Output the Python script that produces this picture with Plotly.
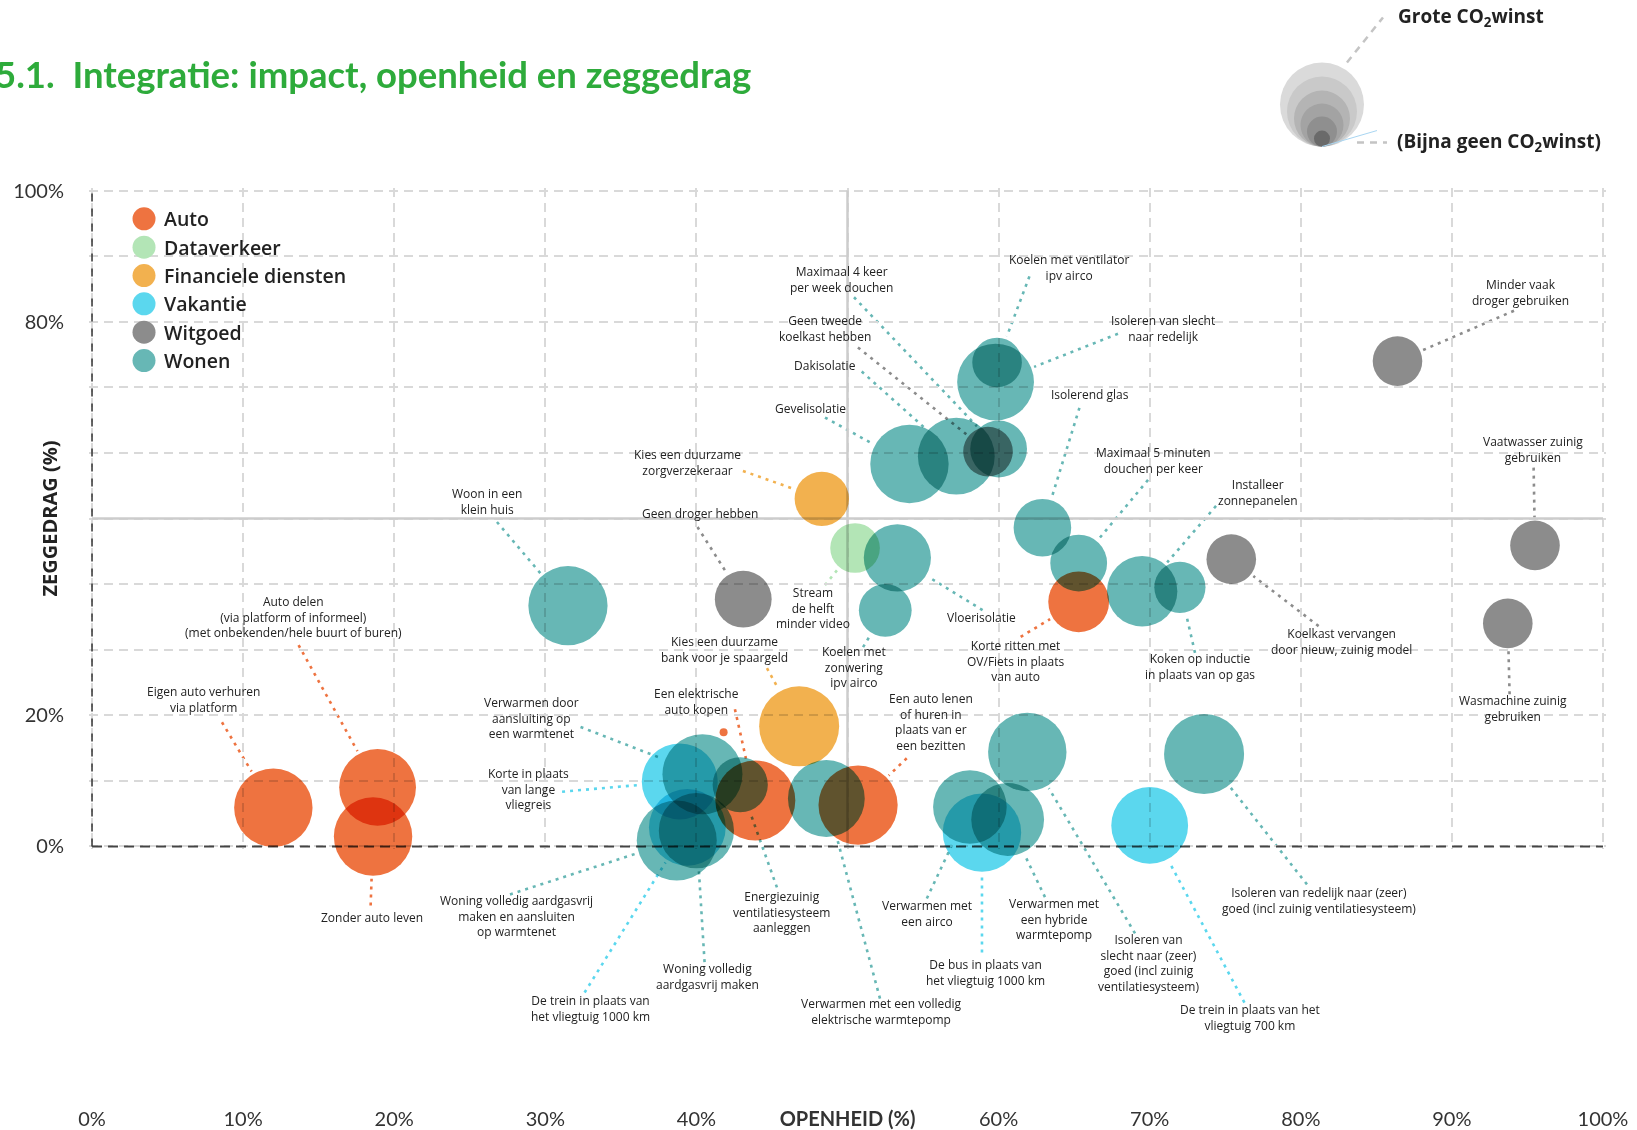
import math
import plotly.graph_objects as go

# ---------------------------------------------------------------- data
categories = ["Auto", "Dataverkeer", "Financiele diensten", "Vakantie", "Witgoed", "Wonen"]
colors = {
    "Auto": "#EE7340",
    "Dataverkeer": "#B3E5B6",
    "Financiele diensten": "#F2B14F",
    "Vakantie": "#5BD7EE",
    "Witgoed": "#8C8C8C",
    "Wonen": "#67B7B5",
}

labels = [
    "Eigen auto verhuren<br>via platform",
    "Auto delen<br>(via platform of informeel)<br>(met onbekenden/hele buurt of buren)",
    "Zonder auto leven",
    "Een elektrische<br>auto kopen",
    "",
    "Korte ritten met<br>OV/Fiets in plaats<br>van auto",
    "Een auto lenen<br>of huren in<br>plaats van er<br>een bezitten",
    "Stream<br>de helft<br>minder video",
    "Kies een duurzame<br>zorgverzekeraar",
    "Kies een duurzame<br>bank voor je spaargeld",
    "Korte in plaats<br>van lange<br>vliegreis",
    "De trein in plaats van<br>het vliegtuig 1000 km",
    "De bus in plaats van<br>het vliegtuig 1000 km",
    "De trein in plaats van het<br>vliegtuig 700 km",
    "Geen droger hebben",
    "Geen tweede<br>koelkast hebben",
    "Minder vaak<br>droger gebruiken",
    "Koelkast vervangen<br>door nieuw, zuinig model",
    "Vaatwasser zuinig<br>gebruiken",
    "Wasmachine zuinig<br>gebruiken",
    "Woon in een<br>klein huis",
    "Gevelisolatie",
    "Dakisolatie",
    "Maximaal 4 keer<br>per week douchen",
    "Koelen met ventilator<br>ipv airco",
    "Isoleren van slecht<br>naar redelijk",
    "Isolerend glas",
    "Maximaal 5 minuten<br>douchen per keer",
    "Installeer<br>zonnepanelen",
    "Koken op inductie<br>in plaats van op gas",
    "Vloerisolatie",
    "Koelen met<br>zonwering<br>ipv airco",
    "Verwarmen door<br>aansluiting op<br>een warmtenet",
    "Woning volledig aardgasvrij<br>maken en aansluiten<br>op warmtenet",
    "Woning volledig<br>aardgasvrij maken",
    "Energiezuinig<br>ventilatiesysteem<br>aanleggen",
    "Verwarmen met een volledig<br>elektrische warmtepomp",
    "Verwarmen met<br>een airco",
    "Verwarmen met<br>een hybride<br>warmtepomp",
    "Isoleren van<br>slecht naar (zeer)<br>goed (incl zuinig<br>ventilatiesysteem)",
    "Isoleren van redelijk naar (zeer)<br>goed (incl zuinig ventilatiesysteem)",
]
group = (["Auto"] * 7 + ["Dataverkeer"] + ["Financiele diensten"] * 2
         + ["Vakantie"] * 4 + ["Witgoed"] * 6 + ["Wonen"] * 21)

openheid = [12.0, 18.9, 18.6, 43.9, 41.8, 65.3, 50.7,
            50.5,
            48.3, 46.8,
            38.9, 39.4, 58.9, 70.0,
            43.1, 59.3, 86.4, 75.4, 95.5, 93.7,
            31.5, 54.1, 57.2, 60.0, 59.9, 59.8, 62.9, 65.3, 69.5, 72.0,
            53.3, 52.5, 40.4, 38.7, 40.0, 42.9, 48.6, 58.1, 60.6, 61.9, 73.6]
zeggedrag = [5.9, 9.0, 1.5, 7.0, 17.4, 37.3, 6.3,
             45.5,
             53.0, 18.3,
             9.9, 2.9, 2.1, 3.2,
             37.7, 60.2, 74.0, 43.8, 45.9, 34.0,
             36.7, 58.3, 59.5, 60.6, 73.8, 70.8, 48.6, 43.2, 38.9, 39.5,
             44.0, 36.0, 11.0, 0.9, 2.4, 9.4, 7.3, 6.0, 4.1, 14.4, 14.1]
# CO2-winst (relative bubble size)
co2 = [9.8, 9.6, 9.8, 10.0, 1.0, 7.6, 9.9,
       6.2,
       6.8, 10.0,
       9.5, 9.6, 9.8, 9.6,
       7.1, 6.2, 6.2, 6.2, 6.2, 6.2,
       9.9, 9.8, 9.6, 7.1, 6.2, 9.6, 7.2, 7.1, 8.8, 6.4,
       8.4, 6.6, 10.0, 10.0, 9.4, 6.9, 9.6, 9.2, 9.1, 9.8, 10.0]

# label placement in axis units, and where each leader line starts
label_at = [(7.39, 22.37), (13.33, 34.96), (18.51, -10.78), (39.99, 22.05), None,
            (61.14, 28.24), (55.53, 19.02), (47.72, 36.40), (39.38, 58.55), (41.86, 30.02),
            (28.86, 8.70), (33.02, -24.66), (59.13, -19.24), (76.62, -26.11),
            (40.21, 50.75), (48.50, 78.93), (94.51, 84.43), (82.69, 31.30), (95.34, 60.46),
            (94.03, 21.10), (26.17, 52.52), (47.52, 66.72), (48.50, 73.37), (49.60, 86.41),
            (64.66, 88.24), (70.88, 78.93), (66.05, 68.92), (70.26, 58.87), (77.17, 53.89),
            (73.30, 27.48), (58.84, 34.96), (50.43, 27.33), (29.08, 19.54), (28.11, -10.63),
            (40.75, -19.85), (45.60, -9.98), (52.28, -25.13), (55.26, -10.31), (63.69, -11.10),
            (69.89, -17.80), (81.18, -8.24)]
leader_from = [(8.60, 18.93), (13.67, 30.69), (18.44, -9.01), (42.55, 20.92), None,
               (61.46, 31.95), (53.92, 13.44), (48.51, 39.85), (43.08, 57.25), (44.67, 27.18),
               (31.11, 8.34), (32.60, -22.29), (58.90, -16.18), (76.27, -23.82),
               (40.07, 48.70), (50.69, 76.09), (94.11, 81.68), (81.18, 33.59), (95.41, 57.76),
               (93.82, 23.21), (26.80, 49.47), (48.51, 65.40), (50.94, 72.41), (50.43, 83.74),
               (62.04, 86.92), (67.90, 78.17), (65.35, 66.87), (69.89, 55.88), (74.39, 51.91),
               (73.00, 29.51), (58.94, 36.03), (51.03, 30.38), (32.33, 18.21), (27.66, -7.33),
               (40.54, -17.66), (45.33, -6.26), (52.15, -23.21), (55.25, -7.94), (63.07, -7.74),
               (69.03, -13.28), (80.41, -5.80)]

x_ticks = [0, 10, 20, 30, 40, 50, 60, 70, 80, 90, 100]
x_ticktext = ["0%", "10%", "20%", "30%", "40%", "<b>OPENHEID (%)</b>",
              "60%", "70%", "80%", "90%", "100%"]
y_ticks = [0, 10, 20, 30, 40, 50, 60, 70, 80, 90, 100]
y_ticktext = ["0%", " ", "20%", " ", " ", " ", " ", " ", "80%", " ", "100%"]

key_radii = [42, 35, 28, 21.5, 15, 8]
key_colors = ["#dadada", "#c9c9c9", "#b4b4b4", "#a3a3a3", "#8f8f8f", "#6a6a6a"]

# ---------------------------------------------------------------- layout geometry
W_FIG, H_FIG = 1637, 1130
XR = [-0.2, 100.2]
YR = [-0.4, 100.4]
ML, MR, MT, MB = 88.98, 30.98, 188.38, 281.38
PW = W_FIG - ML - MR
PH = H_FIG - MT - MB
PX_X = PW / (XR[1] - XR[0])
PX_Y = PH / (YR[1] - YR[0])
SIZEREF = 1 / 8.0   # marker diameter = co2 / SIZEREF px

FONT = "Lato"
LABEL_FONT = "Open Sans"
TXT = "#222222"


def px(x):
    return (x - XR[0]) / (XR[1] - XR[0])


def py(y):
    return (y - YR[0]) / (YR[1] - YR[0])


def pix_x(X):
    return (X - ML) / PW


def pix_y(Y):
    return (MT + PH - Y) / PH


def leader_end(cx, cy, sx, sy, r):
    dx = (cx - sx) * PX_X
    dy = (cy - sy) * PX_Y
    d = math.hypot(dx, dy)
    k = (r + 3) / d
    return cx - dx * k / PX_X, cy - dy * k / PX_Y


fig = go.Figure()

for cat in categories:
    idx = [i for i, g in enumerate(group) if g == cat]
    fig.add_trace(go.Scatter(
        x=[openheid[i] for i in idx],
        y=[zeggedrag[i] for i in idx],
        mode="markers",
        name=cat,
        legendgroup=cat,
        text=[labels[i].replace("<br>", " ") for i in idx],
        hoverinfo="text",
        cliponaxis=False,
        marker=dict(
            size=[co2[i] for i in idx],
            sizemode="diameter",
            sizeref=SIZEREF,
            color=colors[cat],
            opacity=1,
            line=dict(width=0),
        ),
    ))

shapes = []
annotations = []

# axis / quadrant lines
shapes.append(dict(type="line", xref="x", yref="y", x0=50, x1=50, y0=0, y1=100,
                   line=dict(color="#cccccc", width=2.5), layer="between"))
shapes.append(dict(type="line", xref="x", yref="y", x0=0, x1=100, y0=50, y1=50,
                   line=dict(color="#cccccc", width=2.5), layer="between"))
shapes.append(dict(type="line", xref="x", yref="y", x0=0, x1=0, y0=0, y1=100,
                   line=dict(color="#333333", width=1.5, dash="8px,7px"), layer="between"))
shapes.append(dict(type="line", xref="x", yref="y", x0=0, x1=100, y0=0, y1=0,
                   line=dict(color="#444444", width=2, dash="10px,6px"), layer="between"))

# labels + dotted leader lines
for i, lab in enumerate(labels):
    if label_at[i] is None:
        continue
    lx, ly = label_at[i]
    annotations.append(dict(
        x=px(lx), y=py(ly), xref="paper", yref="paper", text=lab, showarrow=False,
        xanchor="center", yanchor="middle", align="center",
        font=dict(family=LABEL_FONT, size=12, color=TXT),
    ))
    sx, sy = leader_from[i]
    r = co2[i] / SIZEREF / 2
    ex, ey = leader_end(openheid[i], zeggedrag[i], sx, sy, r)
    shapes.append(dict(
        type="line", xref="paper", yref="paper",
        x0=px(sx), y0=py(sy), x1=px(ex), y1=py(ey),
        line=dict(color=colors[group[i]], width=2.6, dash="3px,5px"), layer="below",
    ))

# size key (top right)
kx, ky = pix_x(1322), pix_y(147)
for r, c in zip(key_radii, key_colors):
    shapes.append(dict(type="circle", xref="paper", yref="paper",
                       xsizemode="pixel", ysizemode="pixel", xanchor=kx, yanchor=ky,
                       x0=-r, x1=r, y0=0, y1=2 * r,
                       fillcolor=c, line=dict(width=0), layer="above"))
shapes.append(dict(type="line", xref="paper", yref="paper",
                   x0=pix_x(1347), y0=pix_y(63), x1=pix_x(1383), y1=pix_y(18),
                   line=dict(color="#c4c4c4", width=2.5, dash="7px,6px")))
shapes.append(dict(type="line", xref="paper", yref="paper",
                   x0=pix_x(1357), y0=pix_y(143), x1=pix_x(1387), y1=pix_y(143),
                   line=dict(color="#c4c4c4", width=2.5, dash="7px,6px")))
shapes.append(dict(type="line", xref="paper", yref="paper",
                   x0=pix_x(1322), y0=pix_y(147), x1=pix_x(1377), y1=pix_y(131),
                   line=dict(color="#a9d6f2", width=1)))
annotations.append(dict(x=pix_x(1396), y=pix_y(18), xref="paper", yref="paper",
                        text="Grote CO<sub>2</sub>winst", showarrow=False,
                        xanchor="left", yanchor="middle",
                        font=dict(family=LABEL_FONT, size=19, color=TXT, weight="bold")))
annotations.append(dict(x=pix_x(1395), y=pix_y(142), xref="paper", yref="paper",
                        text="(Bijna geen CO<sub>2</sub>winst)", showarrow=False,
                        xanchor="left", yanchor="middle",
                        font=dict(family=LABEL_FONT, size=19, color=TXT, weight="bold")))

# title and y axis title
annotations.append(dict(x=pix_x(-7), y=pix_y(75), xref="paper", yref="paper",
                        text="5.1.  Integratie: impact, openheid en zeggedrag", showarrow=False,
                        xanchor="left", yanchor="middle",
                        font=dict(family=FONT, size=36.5, color="#2EAB3B", weight="bold")))
annotations.append(dict(x=pix_x(49), y=py(50), xref="paper", yref="paper",
                        text="ZEGGEDRAG (%)", showarrow=False, textangle=-90,
                        xanchor="center", yanchor="middle",
                        font=dict(family=LABEL_FONT, size=20, color=TXT, weight="bold")))

fig.update_layout(
    width=W_FIG, height=H_FIG,
    margin=dict(l=ML, r=MR, t=MT, b=MB, autoexpand=False),
    paper_bgcolor="white", plot_bgcolor="white",
    font=dict(family=FONT, color=TXT),
    showlegend=True,
    legend=dict(
        x=pix_x(124), y=pix_y(200), xanchor="left", yanchor="top",
        bgcolor="rgba(0,0,0,0)", borderwidth=0,
        font=dict(family=LABEL_FONT, size=19.5, color=TXT, weight=600),
        itemsizing="trace", traceorder="normal", tracegroupgap=4,
    ),
    shapes=shapes,
    annotations=annotations,
    hovermode="closest",
)
fig.update_xaxes(
    range=XR, tickvals=x_ticks, ticktext=x_ticktext,
    showgrid=True, gridcolor="#d9d9d9", gridwidth=1.5, griddash="9px,6px",
    zeroline=False, showline=False,
    ticks="outside", ticklen=252, tickcolor="rgba(0,0,0,0)",
    tickfont=dict(family=FONT, size=20, color="#333333"),
)
fig.update_yaxes(
    range=YR, tickvals=y_ticks, ticktext=y_ticktext,
    showgrid=True, gridcolor="#d9d9d9", gridwidth=1.5, griddash="9px,6px",
    zeroline=False, showline=False,
    ticks="outside", ticklen=20, tickcolor="rgba(0,0,0,0)",
    tickfont=dict(family=FONT, size=20, color="#333333"),
)

# page tweaks: no body margin, multiply-blended bubbles, larger legend dots
post = ("document.body.style.margin='0';"
        "var s=document.createElement('style');"
        "s.textContent='.scatterlayer .point{mix-blend-mode:multiply;}';"
        "document.head.appendChild(s);"
        "document.querySelectorAll('.legend .scatterpts').forEach(function(p){"
        "p.setAttribute('d','M11.5,0A11.5,11.5 0 1,1 0,-11.5A11.5,11.5 0 0,1 11.5,0Z');});")
fig.write_html("out.html", post_script=post, config={"displayModeBar": False})
